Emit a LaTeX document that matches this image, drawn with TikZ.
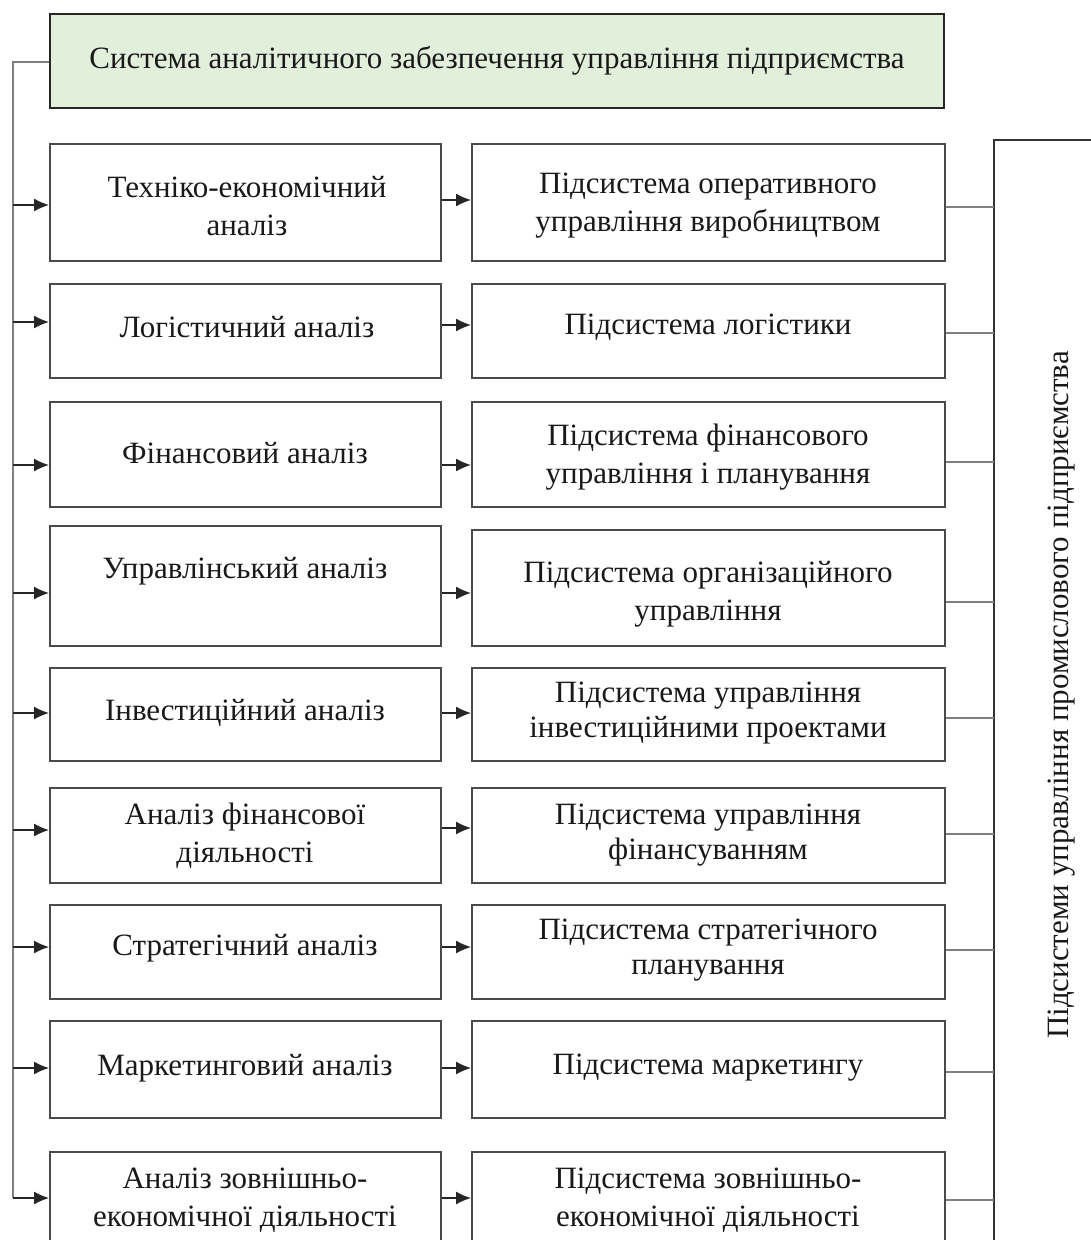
\documentclass[tikz,border=0pt]{standalone}
\usepackage{fontspec}
\setmainfont{Liberation Serif}
\usetikzlibrary{arrows.meta}
\definecolor{headfill}{HTML}{E2EFDA}
\definecolor{edge}{HTML}{4A4A4A}
\tikzset{
  x=1pt, y=-1pt,
  box/.style={draw=edge, line width=1.6pt, fill=white},
  headbox/.style={draw=black!85, line width=1.6pt, fill=headfill},
  txt/.style={font=\fontsize{31}{38}\selectfont, align=center, text=black!90, inner sep=0pt},
  link/.style={draw=black!85, line width=1.3pt},
  arr/.style={link, -{Latex[length=15pt,width=13pt]}},
  tie/.style={draw=black!50, line width=1.1pt},
}
\begin{document}
\begin{tikzpicture}
\useasboundingbox (0,0) rectangle (1091,1240);
\clip (0,0) rectangle (1091,1240);

% header
\node[headbox, minimum width=894pt, minimum height=94pt, anchor=north west] (top) at (49,13) {};
\node[txt] (topt) at (497,61) {Система аналітичного забезпечення управління підприємства};

% left column: kinds of analysis
\foreach \n/\ya/\yb in {1/143/260, 2/283/377, 3/401/506, 4/525/645, 5/667/760, 6/787/882, 7/904/998, 8/1020/1117, 9/1151/1270}{
  \pgfmathsetmacro{\hh}{\yb-\ya}
  \node[box, minimum width=391pt, minimum height=\hh pt, anchor=north west, inner sep=0pt] (l\n) at (49,\ya) {};
}
% right column: subsystems
\foreach \n/\ya/\yb in {1/143/260, 2/283/377, 3/401/506, 4/529/645, 5/667/760, 6/787/882, 7/904/998, 8/1020/1117, 9/1151/1270}{
  \pgfmathsetmacro{\hh}{\yb-\ya}
  \node[box, minimum width=473pt, minimum height=\hh pt, anchor=north west, inner sep=0pt] (r\n) at (471,\ya) {};
}

% labels, left
\node[txt] (l1t) at (247,206) {Техніко-економічний\\аналіз};
\node[txt] (l2t) at (247,327) {Логістичний аналіз};
\node[txt] (l3t) at (245,453) {Фінансовий аналіз};
\node[txt] (l4t) at (245,571) {Управлінський аналіз};
\node[txt] (l5t) at (245,713) {Інвестиційний аналіз};
\node[txt] (l6t) at (245,836) {Аналіз фінансової\\діяльності};
\node[txt] (l7t) at (245,948) {Стратегічний аналіз};
\node[txt] (l8t) at (245,1068) {Маркетинговий аналіз};
\node[txt] (l9t) at (245,1200) {Аналіз зовнішньо-\\економічної діяльності};

% labels, right
\node[txt] (r1t) at (708,206) {Підсистема оперативного\\управління виробництвом};
\node[txt] (r2t) at (708,327) {Підсистема логістики};
\node[txt] (r3t) at (708,457) {Підсистема фінансового\\управління і планування};
\node[txt] (r4t) at (708,594) {Підсистема організаційного\\управління};
\node[txt, font=\fontsize{31}{35}\selectfont] (r5t) at (708,713) {Підсистема управління\\інвестиційними проектами};
\node[txt, font=\fontsize{31}{35}\selectfont] (r6t) at (708,835) {Підсистема управління\\фінансуванням};
\node[txt, font=\fontsize{31}{35}\selectfont] (r7t) at (708,950) {Підсистема стратегічного\\планування};
\node[txt] (r8t) at (708,1068) {Підсистема маркетингу};
\node[txt] (r9t) at (708,1200) {Підсистема зовнішньо-\\економічної діяльності};

% right bracket grouping all subsystems
\coordinate (bt) at (994,140);
\coordinate (bb) at (994,1260);
\coordinate (br) at (1091,140);
\draw[draw=black!80, line width=2.4pt] (br) -- (bt) -- (bb);
\node[txt, rotate=90] (side) at (1062,695) {Підсистеми управління промислового підприємства};

% left spine from the header down to the last row
\coordinate (sp0) at (13,62);
\coordinate (sp9) at (13,1198);
\draw[tie] (top.west |- sp0) -- (sp0) -- (sp9);

% arrows and ties for each row
\foreach \n/\ya/\yb/\yc in {1/205/200/207, 2/322/325/333, 3/465/465/462, 4/593/593/602, 5/713/713/718, 6/830/828/834, 7/947/947/950, 8/1068/1068/1072, 9/1198/1198/1200}{
  \draw[arr] (13,\ya) -- (l\n.west |- 0,\ya);
  \draw[arr] (l\n.east |- 0,\yb) -- (r\n.west |- 0,\yb);
  \draw[tie] (r\n.east |- 0,\yc) -- (bt |- 0,\yc);
}
\end{tikzpicture}
\end{document}
